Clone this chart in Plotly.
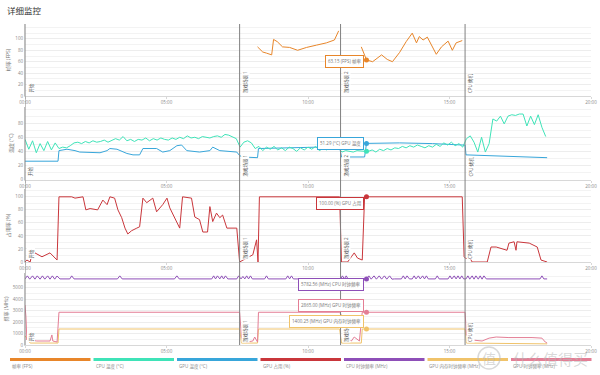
import plotly.graph_objects as go
from plotly.subplots import make_subplots

# ---------------- data ----------------
TICK_VALS = [0, 300, 600, 900, 1200]
TICK_TEXT = ["00:00", "05:00", "10:00", "15:00", "20:00"]

EVENT_T = [0, 455, 669, 933]
EVENT_LABELS = ["开始", "游戏场景 1", "游戏场景 2", "CPU 烤机"]

FPS_T = [493, 501, 504, 512, 523, 527, 535, 546, 561, 578, 597, 618, 639, 656, 665,
         None,
         713, 724, 737, 756, 768, 779, 794, 808, 821, 830, 836, 844, 853, 864, 872,
         883, 889, 897, 906, 914, 927]
FPS_V = [86, 80, 77, 75, 72, 99, 95, 86, 85, 80, 85, 89, 93, 98, 114,
         None,
         86, 63.15, 60, 72, 64, 60, 76, 95, 110, 93, 104, 98, 103, 84, 73,
         86, 90, 96, 80, 93, 97]

CPU_TEMP_STEP = 8
CPU_TEMP_V = [57, 43, 55, 38, 51, 41, 54, 42, 52, 44,
              46, 45, 48, 52, 53, 51, 54, 52, 55, 53,
              54, 56, 53, 55, 58, 56, 61, 55, 57, 54, 57,
              56, 59, 55, 58, 56, 59, 57, 56, 59, 57, 60,
              58, 62, 59, 60, 58, 61, 60, 59, 61, 62, 60, 64, 63, 61, 58,
              46, 53, 55, 52, 44, 47,
              41, 46, 43, 47, 42, 45, 41, 46, 44, 40, 45, 42, 46, 43, 47, 41, 44, 42, 46, 43, 45,
              39, 41, 40, 39, 41, 40, 40,
              40, 42, 39, 43, 41, 44, 42, 45, 44, 47, 45, 48, 46, 49, 47, 45, 48, 46, 50, 47,
              52, 49, 53, 48, 51, 46,
              58, 62, 53, 39, 60, 39, 51, 86, 83, 90, 79, 90, 92, 91, 93, 93, 76, 90, 78, 92,
              74, 61]
CPU_TEMP_T = [i * CPU_TEMP_STEP for i in range(len(CPU_TEMP_V))]

GPU_TEMP_T = [0, 70, 72, 89, 106, 116, 159, 174, 180, 195, 216, 229, 243, 250, 279, 292,
              307, 322, 332, 343, 370, 392, 398, 413, 449, 455, 461, 493, 495, 582, 624,
              667, 671, 720, 724, 794, 864, 927, 933, 935, 1107]
GPU_TEMP_V = [26, 26, 41, 43, 41, 39, 38, 41, 44, 43, 37, 35, 35, 44, 44, 39,
              41, 48, 49, 41, 39, 41, 46, 41, 39, 34, 32, 31, 44, 46, 46,
              46, 32, 32, 51.29, 52, 51, 49, 49, 35, 31]

GPU_USE_T = [0, 4, 11, 15, 21, 36, 53, 59, 68, 72, 99, 106, 123, 129, 138, 154, 159, 165,
             174, 180, 190, 197, 205, 212, 218, 226, 237, 243, 250, 258, 271, 279, 292,
             301, 307, 317, 328, 334, 353, 360, 370, 377, 387, 392, 398, 406, 413, 419,
             428, 449, 455, 470, 483, 491, 494, 497, 667, 671, 684, 692, 698, 705, 715,
             720, 927, 931, 935, 942, 948, 980, 988, 999, 1022, 1026, 1037, 1041, 1043,
             1069, 1086, 1094, 1107]
GPU_USE_V = [0, 3, 0, 14, 14, 8, 14, 9, 3, 100, 100, 98, 100, 80, 82, 80, 88, 95,
             88, 100, 98, 80, 68, 52, 43, 48, 52, 54, 98, 91, 98, 77, 88,
             98, 83, 68, 52, 100, 98, 69, 65, 46, 46, 85, 62, 75, 68, 72,
             52, 52, 0, 6, 11, 34, 0, 100, 100, 0, 0, 8, 14, 6, 3,
             100, 100, 8, 5, 8, 0, 0, 23, 23, 18, 29, 31, 18, 31,
             29, 23, 3, 0]

CPU_CLK_T = [0, 5, 10, 16, 21, 26, 32, 37, 42, 48, 53, 58, 63, 68, 74, 95, 99, 104,
             196, 201, 206, 317, 322, 327,
             396, 400, 404, 408, 413, 417, 421, 425, 430,
             449, 453, 458, 462, 466, 470, 474, 478, 482,
             508, 512, 516, 553, 557, 561, 565, 569,
             669, 673, 677, 681, 685,
             720, 724, 729, 734, 740, 745, 751, 756, 762, 767, 773, 778, 783, 794,
             798, 802, 806, 810, 815, 821, 825, 829, 834, 838, 843, 847, 851, 855,
             870, 874, 878, 897, 901, 905, 910, 914, 918, 922, 926, 930,
             935, 939, 943, 948, 952, 956, 961, 965, 969, 973, 978,
             1092, 1096, 1100, 1107]
CPU_CLK_V = [5782, 6050, 5760, 6050, 5760, 6050, 5760, 6050, 5760, 6050, 5760, 6050, 5760, 6040, 5782, 5782, 6050, 5782,
             5782, 6050, 5782, 5782, 6050, 5782,
             5782, 6050, 5782, 6050, 5782, 6050, 5782, 6050, 5782,
             5782, 6050, 5782, 6000, 5782, 6050, 5782, 6050, 5782,
             5782, 6050, 5782, 5782, 6050, 5782, 6050, 5782,
             5782, 6050, 5782, 6050, 5782,
             5782, 5782.56, 6050, 5760, 6050, 5760, 6050, 5760, 6050, 5760, 6050, 5760, 5782, 5782,
             5782, 6050, 5782, 6050, 5782, 5782, 6050, 5782, 6050, 5782, 6050, 5782, 6050, 5782,
             5782, 6050, 5782, 5782, 6050, 5782, 6050, 5782, 6050, 5782, 6050, 5782,
             5782, 6050, 5760, 6050, 5760, 6050, 5760, 6050, 5760, 6050, 5782,
             5782, 6050, 5782, 5782]

GPU_CLK_T = [0, 2, 4, 6, 11, 25, 53, 57, 59, 68, 72, 332, 336, 345, 455, 459, 461, 470,
             483, 487, 493, 495, 667, 673, 681, 692, 698, 709, 715, 933, 936, 942, 948,
             969, 984, 999, 1026, 1075, 1096, 1103, 1107]
GPU_CLK_V = [3500, 2450, 440, 880, 440, 350, 350, 880, 350, 260, 2865, 2865, 2800, 2865,
             2865, 700, 450, 260, 350, 700, 260, 2865, 2865, 2450, 600, 350, 700, 350,
             2865, 2865, 880, 600, 440, 350, 600, 700, 650, 650, 600, 260, 170]

MEM_CLK_T = [0, 4, 11, 70, 72, 455, 459, 493, 495, 667, 671, 713, 715, 933, 936, 1107]
MEM_CLK_V = [810, 600, 170, 170, 1400.25, 1400.25, 170, 170, 1400.25, 1400.25, 170, 170,
             1400.25, 1400.25, 170, 100]

HOVER_T = 724
HOVER_FPS = 63.15
HOVER_CPU_TEMP = 40.0
HOVER_GPU_TEMP = 51.29
HOVER_GPU_USE = 100.00
HOVER_CPU_CLK = 5782.56
HOVER_GPU_CLK = 2865.00
HOVER_MEM_CLK = 1400.25

SERIES_NAMES = ["帧率 (FPS)", "CPU 温度 (°C)", "GPU 温度 (°C)", "GPU 占用 (%)",
                "CPU 时钟频率 (MHz)", "GPU 内存时钟频率 (MHz)", "GPU 时钟频率 (MHz)"]
COLORS = ["#e8862a", "#3fe3b8", "#38a6da", "#c9363b", "#8e4fb8", "#f0c36a", "#e47e95"]
C_FPS, C_CT, C_GT, C_GU, C_CC, C_MC, C_GC = COLORS

Y_TITLES = ["帧率 (FPS)", "温度 (°C)", "占用率 (%)", "频率 (MHz)"]
Y_RANGES = [[0, 126], [0, 103], [0, 112], [0, 6300]]
Y_TICKS = [[0, 20, 40, 60, 80, 100], [0, 20, 40, 60, 80], [0, 20, 40, 60, 80, 100],
           [0, 1000, 2000, 3000, 4000, 5000]]
Y_MINOR = [10, 10, 10, 500]

# ---------------- layout helpers ----------------
W, H = 600, 375
ML, MR = 25, 9
PANELS_PX = [(24, 96), (107, 179.5), (189, 262), (273, 345)]


def py(p):
    return 1 - p / H


def px(p):
    return (p - ML) / (W - ML - MR)


FONT = "Open Sans, Noto Sans CJK SC, sans-serif"
TXT = "#8a8a8a"

fig = make_subplots(rows=4, cols=1)


def line(x, y, color, row):
    fig.add_trace(go.Scatter(x=x, y=y, mode="lines", line=dict(color=color, width=1),
                             connectgaps=False, hoverinfo="skip", showlegend=False),
                  row=row, col=1)


line(FPS_T, FPS_V, C_FPS, 1)
line(GPU_TEMP_T, GPU_TEMP_V, C_GT, 2)
line(CPU_TEMP_T, CPU_TEMP_V, C_CT, 2)
line(GPU_USE_T, GPU_USE_V, C_GU, 3)
line(MEM_CLK_T, MEM_CLK_V, C_MC, 4)
line(GPU_CLK_T, GPU_CLK_V, C_GC, 4)
line(CPU_CLK_T, CPU_CLK_V, C_CC, 4)

# hover markers
hover_pts = [(1, HOVER_FPS, C_FPS), (2, HOVER_CPU_TEMP, C_CT), (2, HOVER_GPU_TEMP, C_GT),
             (3, HOVER_GPU_USE, C_GU), (4, HOVER_CPU_CLK, C_CC), (4, HOVER_GPU_CLK, C_GC),
             (4, HOVER_MEM_CLK, C_MC)]
for row, v, c in hover_pts:
    fig.add_trace(go.Scatter(x=[HOVER_T], y=[v], mode="markers",
                             marker=dict(color=c, size=5, line=dict(color=c, width=0)),
                             hoverinfo="skip", showlegend=False), row=row, col=1)

layout = dict(
    width=W, height=H, margin=dict(l=ML, r=MR, t=0, b=0, autoexpand=False),
    paper_bgcolor="white", plot_bgcolor="white",
    font=dict(family=FONT, size=5, color=TXT),
    title=dict(text="详细监控", x=7 / W, xanchor="left", y=1 - 11 / H, yanchor="middle",
               xref="container", yref="container",
               font=dict(size=8.5, color="#333333", family="Noto Sans CJK SC")),
    showlegend=False,
)
for i in range(4):
    sfx = "" if i == 0 else str(i + 1)
    top, bot = PANELS_PX[i]
    layout["xaxis" + sfx] = dict(
        range=[0, 1200], tickvals=TICK_VALS, ticktext=TICK_TEXT, automargin=False,
        showgrid=False, zeroline=False, showline=True, linecolor="#d8d8d8", linewidth=1,
        ticks="outside", ticklen=2, tickcolor="#d8d8d8",
        tickfont=dict(size=4.5, color=TXT), fixedrange=True)
    layout["yaxis" + sfx] = dict(
        domain=[py(bot), py(top)], range=Y_RANGES[i], tickvals=Y_TICKS[i], automargin=False,
        showgrid=True, gridcolor="#ededed", gridwidth=1, zeroline=False,
        showline=True, linecolor="#bdbdbd", linewidth=1,
        minor=dict(dtick=Y_MINOR[i], showgrid=True, gridcolor="#f3f3f3"),
        tickfont=dict(size=4.5, color=TXT),
        title=dict(text=Y_TITLES[i], font=dict(size=5, color="#777777"), standoff=4),
        fixedrange=True)
fig.update_layout(**layout)

shapes = []
annotations = []

# event lines spanning all panels
for t in EVENT_T:
    shapes.append(dict(type="line", xref="x", yref="paper", x0=t, x1=t,
                       y0=py(PANELS_PX[3][1]), y1=py(PANELS_PX[0][0]),
                       line=dict(color="#808080", width=1)))
# event labels in each panel
for i in range(4):
    sfx = "" if i == 0 else str(i + 1)
    for t, lab in zip(EVENT_T, EVENT_LABELS):
        annotations.append(dict(xref="x" + sfx, yref="y" + sfx + " domain", x=t, y=0,
                                xanchor="left", yanchor="bottom", xshift=1, yshift=2,
                                text=lab, textangle=-90, showarrow=False,
                                bgcolor="white", borderpad=0,
                                font=dict(size=4.5, color="#555555")))

# tooltip boxes
tips = [
    (1, HOVER_FPS, f"{HOVER_FPS:.2f} (FPS) 帧率", C_FPS, "middle", -2),
    (2, HOVER_GPU_TEMP, f"{HOVER_GPU_TEMP:.2f} (°C) GPU 温度", C_GT, "middle", 0),
    (3, HOVER_GPU_USE, f"{HOVER_GPU_USE:.2f} (%) GPU 占用", C_GU, "top", 0),
    (4, HOVER_CPU_CLK, f"{HOVER_CPU_CLK:.2f} (MHz) CPU 时钟频率", C_CC, "top", 1),
    (4, HOVER_GPU_CLK, f"{HOVER_GPU_CLK:.2f} (MHz) GPU 时钟频率", C_GC, "bottom", 0),
    (4, HOVER_MEM_CLK, f"{HOVER_MEM_CLK:.2f} (MHz) GPU 内存时钟频率", C_MC, "bottom", 1),
]
for row, v, text, c, ya, ys in tips:
    sfx = "" if row == 1 else str(row)
    annotations.append(dict(xref="x" + sfx, yref="y" + sfx, x=HOVER_T, y=v,
                            xanchor="right", yanchor=ya, xshift=-2, yshift=ys,
                            text=text, showarrow=False, bgcolor="white",
                            bordercolor=c, borderwidth=1, borderpad=2,
                            font=dict(size=4.5, color="#777777")))

# custom legend bars
for i, (name, c) in enumerate(zip(SERIES_NAMES, COLORS)):
    x0 = 10 + 83.5 * i
    shapes.append(dict(type="line", xref="paper", yref="paper",
                       x0=px(x0), x1=px(x0 + 80.5), y0=py(359.5), y1=py(359.5),
                       line=dict(color=c, width=3)))
    annotations.append(dict(xref="paper", yref="paper", x=px(x0), y=py(366.5),
                            xanchor="left", yanchor="middle", text=name, showarrow=False,
                            font=dict(size=4.5, color=TXT)))

# watermark
WM = "rgba(185,185,185,0.55)"
shapes.append(dict(type="circle", xref="paper", yref="paper",
                   x0=px(478), x1=px(500), y0=py(369), y1=py(347),
                   line=dict(color=WM, width=1.5)))
annotations.append(dict(xref="paper", yref="paper", x=px(489), y=py(358), text="值",
                        showarrow=False, xanchor="center", yanchor="middle",
                        font=dict(size=14, color=WM, family="Noto Sans CJK SC")))
annotations.append(dict(xref="paper", yref="paper", x=px(550), y=py(358),
                        text="什么值得买", showarrow=False, xanchor="center",
                        yanchor="middle",
                        font=dict(size=15, color=WM, family="Noto Sans CJK SC")))

fig.update_layout(shapes=shapes, annotations=annotations)
fig.write_html(
    "out.html",
    config={"displayModeBar": False, "staticPlot": True},
    post_script="document.body.style.margin='0';document.body.style.overflow='hidden';",
)
